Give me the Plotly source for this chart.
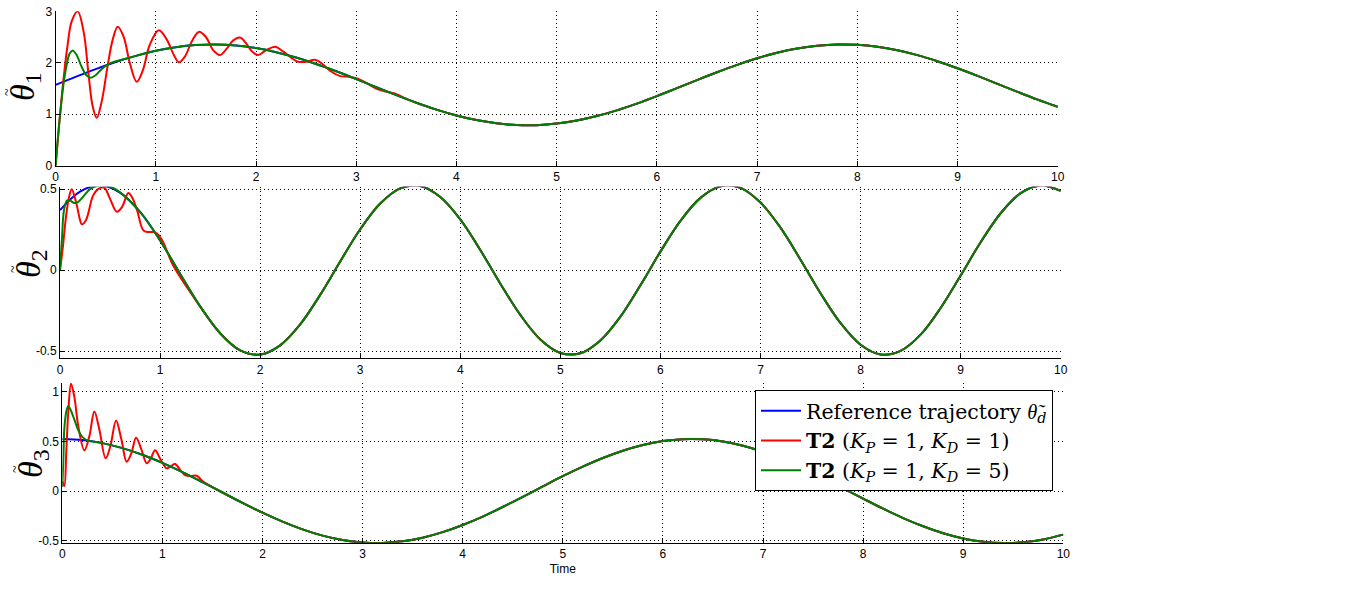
import plotly.graph_objects as go

# ---------------- data ----------------
time = [0, 0.2, 0.4, 0.6, 0.8, 1.0, 1.2, 1.4, 1.6, 1.8, 2.0, 2.2, 2.4, 2.6, 2.8,
        3.0, 3.2, 3.4, 3.6, 3.8, 4.0, 4.2, 4.4, 4.6, 4.8, 5.0, 5.2, 5.4, 5.6, 5.8,
        6.0, 6.2, 6.4, 6.6, 6.8, 7.0, 7.2, 7.4, 7.6, 7.8, 8.0, 8.2, 8.4, 8.6, 8.8,
        9.0, 9.2, 9.4, 9.6, 9.8, 10.0]

ref1 = [1.571, 1.727, 1.877, 2.014, 2.134, 2.232, 2.303, 2.345, 2.356, 2.336, 2.285,
        2.206, 2.101, 1.976, 1.834, 1.682, 1.525, 1.370, 1.223, 1.090, 0.977, 0.886,
        0.823, 0.790, 0.788, 0.818, 0.877, 0.964, 1.075, 1.206, 1.351, 1.506, 1.662,
        1.815, 1.959, 2.087, 2.194, 2.277, 2.331, 2.355, 2.348, 2.310, 2.242, 2.148,
        2.030, 1.894, 1.746, 1.590, 1.434, 1.283, 1.144]

ref2 = [0.370, 0.485, 0.524, 0.479, 0.359, 0.183, -0.023, -0.224, -0.390, -0.496, -0.522,
        -0.465, -0.336, -0.153, 0.053, 0.252, 0.411, 0.505, 0.519, 0.451, 0.313, 0.124,
        -0.084, -0.277, -0.429, -0.512, -0.514, -0.435, -0.288, -0.094, 0.114, 0.304,
        0.446, 0.517, 0.508, 0.417, 0.262, 0.064, -0.143, -0.328, -0.461, -0.521, -0.499,
        -0.399, -0.234, -0.034, 0.172, 0.351, 0.475, 0.523, 0.489]

ref3 = [0.524, 0.513, 0.482, 0.432, 0.365, 0.283, 0.190, 0.089, -0.015, -0.119, -0.218,
        -0.308, -0.386, -0.449, -0.493, -0.518, -0.523, -0.506, -0.470, -0.414, -0.342,
        -0.257, -0.161, -0.059, 0.046, 0.149, 0.245, 0.332, 0.406, 0.464, 0.503, 0.522,
        0.520, 0.498, 0.455, 0.395, 0.319, 0.230, 0.132, 0.028, -0.076, -0.178, -0.272,
        -0.355, -0.425, -0.477, -0.510, -0.523, -0.516, -0.487, -0.439]

# transients (KP=1, KD=1 -> red ; KP=1, KD=5 -> green)
t_red1 = [0, 0.04, 0.08, 0.12, 0.16, 0.22, 0.28, 0.33, 0.37, 0.41, 0.46, 0.52, 0.57,
          0.62, 0.68, 0.74, 0.81, 0.87, 0.94, 1.03, 1.11, 1.18, 1.23, 1.29, 1.36, 1.43,
          1.5, 1.57, 1.64, 1.71, 1.77, 1.84, 1.9, 1.96, 2.02, 2.1, 2.19, 2.27, 2.35,
          2.42, 2.5, 2.59, 2.66, 2.75, 2.84, 2.92, 3.0, 3.1, 3.2, 3.3, 3.4, 3.5, 3.6]
red1 = [0.0, 0.9, 1.7, 2.35, 2.8, 3.0, 2.6, 1.75, 1.15, 0.93, 1.25, 1.95, 2.45,
        2.70, 2.5, 2.0, 1.63, 1.85, 2.35, 2.63, 2.45, 2.15, 2.01, 2.12, 2.42, 2.60,
        2.5, 2.25, 2.15, 2.28, 2.43, 2.49, 2.38, 2.22, 2.15, 2.24, 2.31, 2.22, 2.10,
        2.02, 2.02, 2.06, 1.98, 1.83, 1.74, 1.73, 1.70, 1.61, 1.50, 1.44, 1.39, 1.30, 1.22]

t_grn1 = [0, 0.04, 0.08, 0.11, 0.14, 0.17, 0.21, 0.26, 0.31, 0.35, 0.4, 0.46, 0.53,
          0.62, 0.7]
grn1 = [0.0, 0.9, 1.6, 1.95, 2.18, 2.24, 2.15, 1.92, 1.75, 1.71, 1.76, 1.88, 1.98,
        2.04, 2.08]

t_red2 = [0, 0.03, 0.06, 0.09, 0.117, 0.16, 0.2, 0.217, 0.26, 0.33, 0.38, 0.44, 0.5,
          0.567, 0.62, 0.683, 0.72, 0.77, 0.833, 0.88, 0.93, 0.97, 1.02, 1.08, 1.13]
red2 = [0.0, 0.15, 0.33, 0.45, 0.50, 0.42, 0.31, 0.283, 0.31, 0.46, 0.50, 0.51, 0.44,
        0.36, 0.39, 0.476, 0.45, 0.37, 0.245, 0.235, 0.235, 0.225, 0.185, 0.10, 0.03]

t_grn2 = [0, 0.02, 0.04, 0.07, 0.1, 0.14, 0.18, 0.24, 0.3, 0.38, 0.45, 0.52, 0.6]
grn2 = [0.0, 0.2, 0.37, 0.43, 0.43, 0.415, 0.42, 0.46, 0.50, 0.52, 0.523, 0.51, 0.48]

t_red3 = [0, 0.02, 0.04, 0.06, 0.087, 0.12, 0.16, 0.22, 0.27, 0.32, 0.37, 0.433, 0.48,
          0.537, 0.59, 0.643, 0.69, 0.737, 0.79, 0.843, 0.885, 0.927, 0.98, 1.043,
          1.085, 1.127, 1.18, 1.227, 1.28, 1.343, 1.4, 1.5]
red3 = [0.1, 0.05, 0.4, 0.8, 1.08, 0.95, 0.65, 0.41, 0.55, 0.80, 0.62, 0.33, 0.45,
        0.71, 0.52, 0.295, 0.38, 0.537, 0.42, 0.28, 0.33, 0.41, 0.32, 0.228,
        0.25, 0.272, 0.21, 0.16, 0.15, 0.154, 0.10, 0.04]

t_grn3 = [0, 0.01, 0.02, 0.04, 0.06, 0.09, 0.12, 0.16, 0.2, 0.25]
grn3 = [0.04, 0.3, 0.62, 0.8, 0.856, 0.8, 0.72, 0.61, 0.545, 0.51]

xticks = [0, 1, 2, 3, 4, 5, 6, 7, 8, 9, 10]
xticklabels = ["0", "1", "2", "3", "4", "5", "6", "7", "8", "9", "10"]
yticks1 = [0, 1, 2, 3]
yticklabels1 = ["0", "1", "2", "3"]
yticks2 = [-0.5, 0, 0.5]
yticklabels2 = ["-0.5", "0", "0.5"]
yticks3 = [-0.5, 0, 0.5, 1]
yticklabels3 = ["-0.5", "0", "0.5", "1"]

legend_names = ["Reference trajectory <span style=\"font-family:'Liberation Serif'\"><i>θ̃</i></span><sub><i>d</i></sub>",
                "<b>T2</b> (<i>K<sub>P</sub></i> = 1, <i>K<sub>D</sub></i> = 1)",
                "<b>T2</b> (<i>K<sub>P</sub></i> = 1, <i>K<sub>D</sub></i> = 5)"]
ylabels = ["<i>θ</i><sub>1</sub>", "<i>θ</i><sub>2</sub>", "<i>θ</i><sub>3</sub>"]
xlabel = "Time"


def join(t_tr, v_tr, t_ref, v_ref):
    tt = list(t_tr)
    vv = list(v_tr)
    for t, v in zip(t_ref, v_ref):
        if t > t_tr[-1] + 0.1:
            tt.append(t)
            vv.append(v)
    return tt, vv


W, H = 1366, 610
BLUE, RED, GREEN = "#0000FF", "#FF0000", "#008000"
SERIF = "DejaVu Serif, Liberation Serif, serif"

# pixel boxes of the three axes (left, right, top, bottom)
boxes = [(55.6, 1057.7, 11.3, 165.7),
         (60.0, 1060.7, 186.7, 358.3),
         (62.3, 1063.3, 382.7, 542.7)]
yranges = [[0, 3], [-0.545, 0.515], [-0.52, 1.09]]

fig = go.Figure()

series = [(ref1, (t_red1, red1), (t_grn1, grn1)),
          (ref2, (t_red2, red2), (t_grn2, grn2)),
          (ref3, (t_red3, red3), (t_grn3, grn3))]

for i, (ref, (tr, vr), (tg, vg)) in enumerate(series):
    xa = "x" if i == 0 else f"x{i+1}"
    ya = "y" if i == 0 else f"y{i+1}"
    rt, rv = join(tr, vr, time, ref)
    gt, gv = join(tg, vg, time, ref)
    fig.add_trace(go.Scatter(x=time, y=ref, mode="lines", xaxis=xa, yaxis=ya,
                             line=dict(color=BLUE, width=2, shape="spline"),
                             name=legend_names[0], showlegend=(i == 2)))
    fig.add_trace(go.Scatter(x=rt, y=rv, mode="lines", xaxis=xa, yaxis=ya,
                             line=dict(color=RED, width=2, shape="spline"),
                             name=legend_names[1], showlegend=(i == 2)))
    fig.add_trace(go.Scatter(x=gt, y=gv, mode="lines", xaxis=xa, yaxis=ya,
                             line=dict(color=GREEN, width=2, shape="spline"),
                             name=legend_names[2], showlegend=(i == 2)))

ytick_sets = [(yticks1, yticklabels1), (yticks2, yticklabels2), (yticks3, yticklabels3)]
axfont = dict(family="Liberation Sans, Arial, sans-serif", size=12, color="black")

layout = dict(
    width=W, height=H, autosize=False,
    margin=dict(l=0, r=0, t=0, b=0, pad=0, autoexpand=False),
    paper_bgcolor="white", plot_bgcolor="white",
    showlegend=True,
    legend=dict(x=755 / W, y=1 - 390 / H, xanchor="left", yanchor="top",
                bgcolor="white", bordercolor="black", borderwidth=1,
                font=dict(family=SERIF, size=20.5, color="black"),
                tracegroupgap=0, itemwidth=40),
)

annotations = []
theta_pos = [(25, 87), (31, 264), (33, 464)]
for i, ((l, r, t, b), yr, (tv, tt)) in enumerate(zip(boxes, yranges, ytick_sets)):
    sx = "xaxis" if i == 0 else f"xaxis{i+1}"
    sy = "yaxis" if i == 0 else f"yaxis{i+1}"
    ya = "y" if i == 0 else f"y{i+1}"
    xa = "x" if i == 0 else f"x{i+1}"
    layout[sx] = dict(domain=[l / W, r / W], range=[0, 10], anchor=ya,
                      tickvals=xticks, ticktext=xticklabels, automargin=False,
                      showline=True, linecolor="black", linewidth=1, mirror=False,
                      ticks="inside", ticklen=5, tickcolor="black", tickwidth=1,
                      showgrid=True, gridcolor="black", gridwidth=1, griddash="1px,3px",
                      zeroline=False, tickfont=axfont, fixedrange=True)
    layout[sy] = dict(domain=[1 - b / H, 1 - t / H], range=yr, anchor=xa,
                      tickvals=tv, ticktext=tt, automargin=False,
                      showline=True, linecolor="black", linewidth=1, mirror=False,
                      ticks="inside", ticklen=5, tickcolor="black", tickwidth=1,
                      showgrid=True, gridcolor="black", gridwidth=1, griddash="1px,3px",
                      zeroline=False, tickfont=axfont, fixedrange=True)
    cx, cy = theta_pos[i]
    annotations.append(dict(x=cx / W, y=1 - cy / H, xref="paper", yref="paper",
                            text=ylabels[i], showarrow=False, textangle=-90,
                            xanchor="center", yanchor="middle",
                            font=dict(family="Liberation Serif, DejaVu Serif, serif",
                                      size=34, color="black")))
    annotations.append(dict(x=(cx - 18) / W, y=1 - (cy + 5) / H, xref="paper", yref="paper",
                            text="~", showarrow=False, textangle=-90,
                            xanchor="center", yanchor="middle",
                            font=dict(family="Liberation Serif, DejaVu Serif, serif",
                                      size=14, color="black")))

layout["xaxis3"]["title"] = dict(text=xlabel, font=axfont, standoff=4)
layout["annotations"] = annotations
fig.update_layout(**layout)

fig.write_html("out.html", config={"displayModeBar": False},
               post_script="document.body.style.margin='0';")
